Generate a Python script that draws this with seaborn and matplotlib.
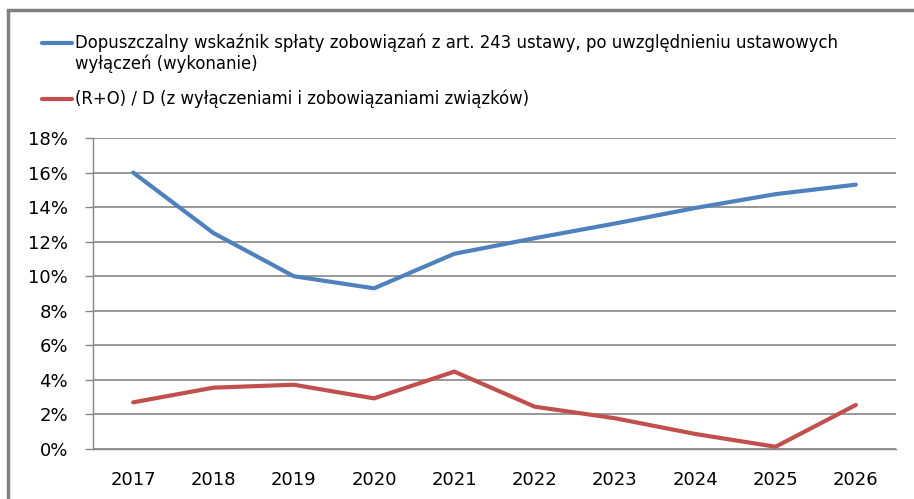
import pandas as pd
import matplotlib.pyplot as plt
import seaborn as sns
from matplotlib.lines import Line2D
from matplotlib.patches import Rectangle
from matplotlib.ticker import FuncFormatter, FixedLocator

years = ["2017", "2018", "2019", "2020", "2021", "2022", "2023", "2024", "2025", "2026"]
limit_ratio = [16.0, 12.5, 10.0, 9.3, 11.3, 12.2, 13.05, 13.95, 14.75, 15.3]
debt_ratio = [2.7, 3.55, 3.72, 2.93, 4.48, 2.45, 1.78, 0.87, 0.13, 2.55]
labels = [
    "Dopuszczalny wskaźnik spłaty zobowiązań z art. 243 ustawy, po uwzględnieniu ustawowych\nwyłączeń (wykonanie)",
    "(R+O) / D (z wyłączeniami i zobowiązaniami związków)",
]
colors = ["#4F81BD", "#C0504D"]

df = pd.DataFrame({
    "Rok": years * 2,
    "Wartosc": limit_ratio + debt_ratio,
    "Seria": [labels[0]] * len(years) + [labels[1]] * len(years),
})

sns.set_style("white")
plt.rcParams["font.family"] = ["DejaVu Sans"]
plt.rcParams["text.color"] = "black"

fig = plt.figure(figsize=(9.14, 4.99), dpi=100)
ax = fig.add_axes([93 / 914, 1 - 449 / 499, (896 - 93) / 914, (449 - 138) / 499])

sns.lineplot(data=df, x="Rok", y="Wartosc", hue="Seria", palette=colors,
             linewidth=3, legend=False, ax=ax)

grid_c = "#868686"
ax.set_ylim(0, 18)
ax.set_xlim(-0.5, len(years) - 0.5)
ax.set_yticks(range(0, 19, 2))
ax.yaxis.set_major_formatter(FuncFormatter(lambda v, p: f"{v:.0f}%"))
ax.grid(axis="y", color=grid_c, linewidth=1.2)
ax.set_axisbelow(True)
ax.set_xlabel("")
ax.set_ylabel("")

ax.xaxis.set_minor_locator(FixedLocator([i - 0.5 for i in range(len(years) + 1)]))
ax.tick_params(axis="x", which="major", length=0, pad=16, labelsize=13, labelcolor="black")
ax.tick_params(axis="x", which="minor", length=5, width=1, color=grid_c, direction="out")
ax.tick_params(axis="y", length=6, width=1, color=grid_c, pad=12, labelsize=13,
               labelcolor="black", direction="out", left=True)

for s in ["top", "right"]:
    ax.spines[s].set_visible(False)
for s in ["left", "bottom"]:
    ax.spines[s].set_color(grid_c)
    ax.spines[s].set_linewidth(1)

# legend drawn Excel-style, handle aligned to first text line
leg_y = [1 - 43 / 499, 1 - 99 / 499]
for lab, col, y in zip(labels, colors, leg_y):
    fig.add_artist(Line2D([42 / 914, 72 / 914], [y, y], color=col, linewidth=3,
                          transform=fig.transFigure))
    fig.text(75 / 914, y + 0.019, lab, fontsize=11.9, va="top", ha="left",
             linespacing=1.2, color="black")

# outer chart frame
fig.add_artist(Rectangle((8 / 914, -0.2), 1.2, 1.2 - 10 / 499,
                         transform=fig.transFigure, fill=False,
                         edgecolor="#7F7F7F", linewidth=2.5))

fig.savefig("out.png", dpi=100)
